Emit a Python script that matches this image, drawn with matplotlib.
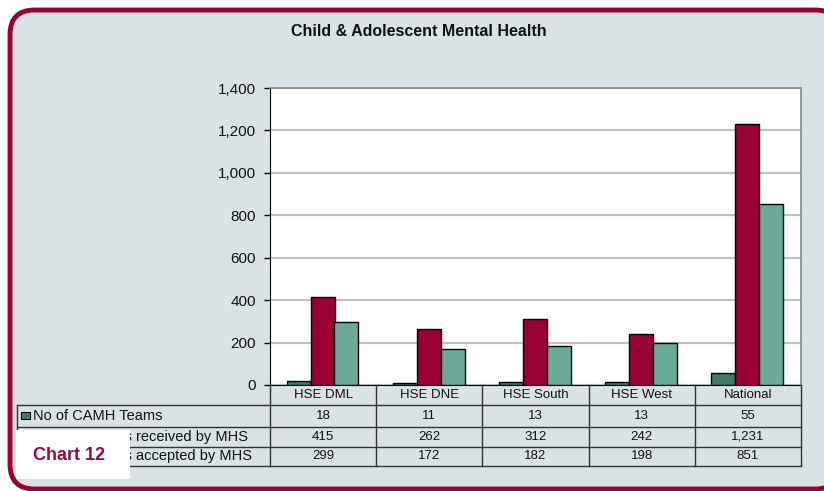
import matplotlib
matplotlib.use("Agg")
import matplotlib.pyplot as plt
from matplotlib.patches import FancyBboxPatch, Rectangle
from matplotlib.lines import Line2D
import numpy as np

categories = ["HSE DML", "HSE DNE", "HSE South", "HSE West", "National"]
series_names = ["No of CAMH Teams", "No of Referrals received by MHS", "No of Referrals accepted by MHS"]
teams = [18, 11, 13, 13, 55]
received = [415, 262, 312, 242, 1231]
accepted = [299, 172, 182, 198, 851]
colors = ["#3F7A66", "#990033", "#6BAA98"]
title = "Child & Adolescent Mental Health"
yticks = [0, 200, 400, 600, 800, 1000, 1200, 1400]

W, H = 824, 491
fig = plt.figure(figsize=(W / 100, H / 100), dpi=100)
fig.patch.set_facecolor("white")

def fx(x):
    return x / W

def fy(y):
    return 1 - y / H

# background frame
frame = FancyBboxPatch((fx(10), fy(489)), fx(840) - fx(10), fy(10) - fy(489),
                       boxstyle="round,pad=0,rounding_size=0.03",
                       transform=fig.transFigure, facecolor="#D9E2E4",
                       edgecolor="#990033", linewidth=3.5, zorder=0,
                       mutation_aspect=W / H)
fig.add_artist(frame)

fig.text(fx(419), fy(32), title, ha="center", va="center", fontsize=11.5,
         fontweight="bold", family="Liberation Sans", color="#111111")

L, R, T, B = 270, 801, 88, 385
ax = fig.add_axes([fx(L), fy(B), fx(R) - fx(L), fy(T) - fy(B)])
ax.set_facecolor("white")
ax.set_xlim(0, 5)
ax.set_ylim(0, 1400)
ax.set_yticks(yticks)
ax.set_yticklabels([f"{v:,}" for v in yticks], fontsize=11, family="Liberation Sans", color="#111111")
ax.set_xticks([])
ax.yaxis.grid(True, color="#C0C0C0", linewidth=1.6)
ax.set_axisbelow(True)
ax.tick_params(axis="y", length=4, width=1, color="black", pad=6)
for s in ["top", "right"]:
    ax.spines[s].set_color("#888888")
    ax.spines[s].set_linewidth(1.2)
ax.spines["left"].set_color("black")
ax.spines["bottom"].set_color("black")

idx = np.arange(len(categories))
w = 0.226
offs = [0.27, 0.495, 0.72]
for vals, c, o in zip([teams, received, accepted], colors, offs):
    ax.bar(idx + o, vals, width=w, color=c, edgecolor="black", linewidth=1, zorder=3)

# table
lc = "#333333"
row_y = [405, 426.5, 446.5, 466]
def hline(x0, x1, y):
    fig.add_artist(Line2D([fx(x0), fx(x1)], [fy(y), fy(y)], color=lc, linewidth=1, transform=fig.transFigure))
def vline(x, y0, y1):
    fig.add_artist(Line2D([fx(x), fx(x)], [fy(y0), fy(y1)], color=lc, linewidth=1, transform=fig.transFigure))

for y in row_y:
    hline(16.5, R, y)
colw = (R - L) / len(categories)
for i in range(len(categories) + 1):
    vline(L + i * colw, B, row_y[-1])
vline(16.5, row_y[0], row_y[-1])

tf = dict(fontsize=9.5, family="Liberation Sans", color="#111111")
for i, cat in enumerate(categories):
    cx = L + (i + 0.5) * colw
    fig.text(fx(cx), fy((B + row_y[0]) / 2), cat, ha="center", va="center", **tf)
    for r, vals in enumerate([teams, received, accepted]):
        fig.text(fx(cx), fy((row_y[r] + row_y[r + 1]) / 2), f"{vals[i]:,}", ha="center", va="center", **tf)

for r, name in enumerate(series_names):
    yc = (row_y[r] + row_y[r + 1]) / 2
    fig.add_artist(Rectangle((fx(21), fy(yc + 3.5)), fx(9), fy(0) - fy(7), facecolor=colors[r],
                             edgecolor="black", linewidth=0.8, transform=fig.transFigure))
    fig.text(fx(33), fy(yc), name, ha="left", va="center", fontsize=10.5,
             family="Liberation Sans", color="#111111")

# Chart 12 box
fig.add_artist(Rectangle((fx(16), fy(479)), fx(114), fy(0) - fy(49.5), facecolor="white",
                         edgecolor="none", transform=fig.transFigure, zorder=10))
fig.text(fx(69), fy(455), "Chart 12", ha="center", va="center", fontsize=13, fontweight="bold",
         family="Liberation Sans", color="#9B0A35", zorder=11)

fig.savefig("out.png", dpi=100, facecolor="white")
